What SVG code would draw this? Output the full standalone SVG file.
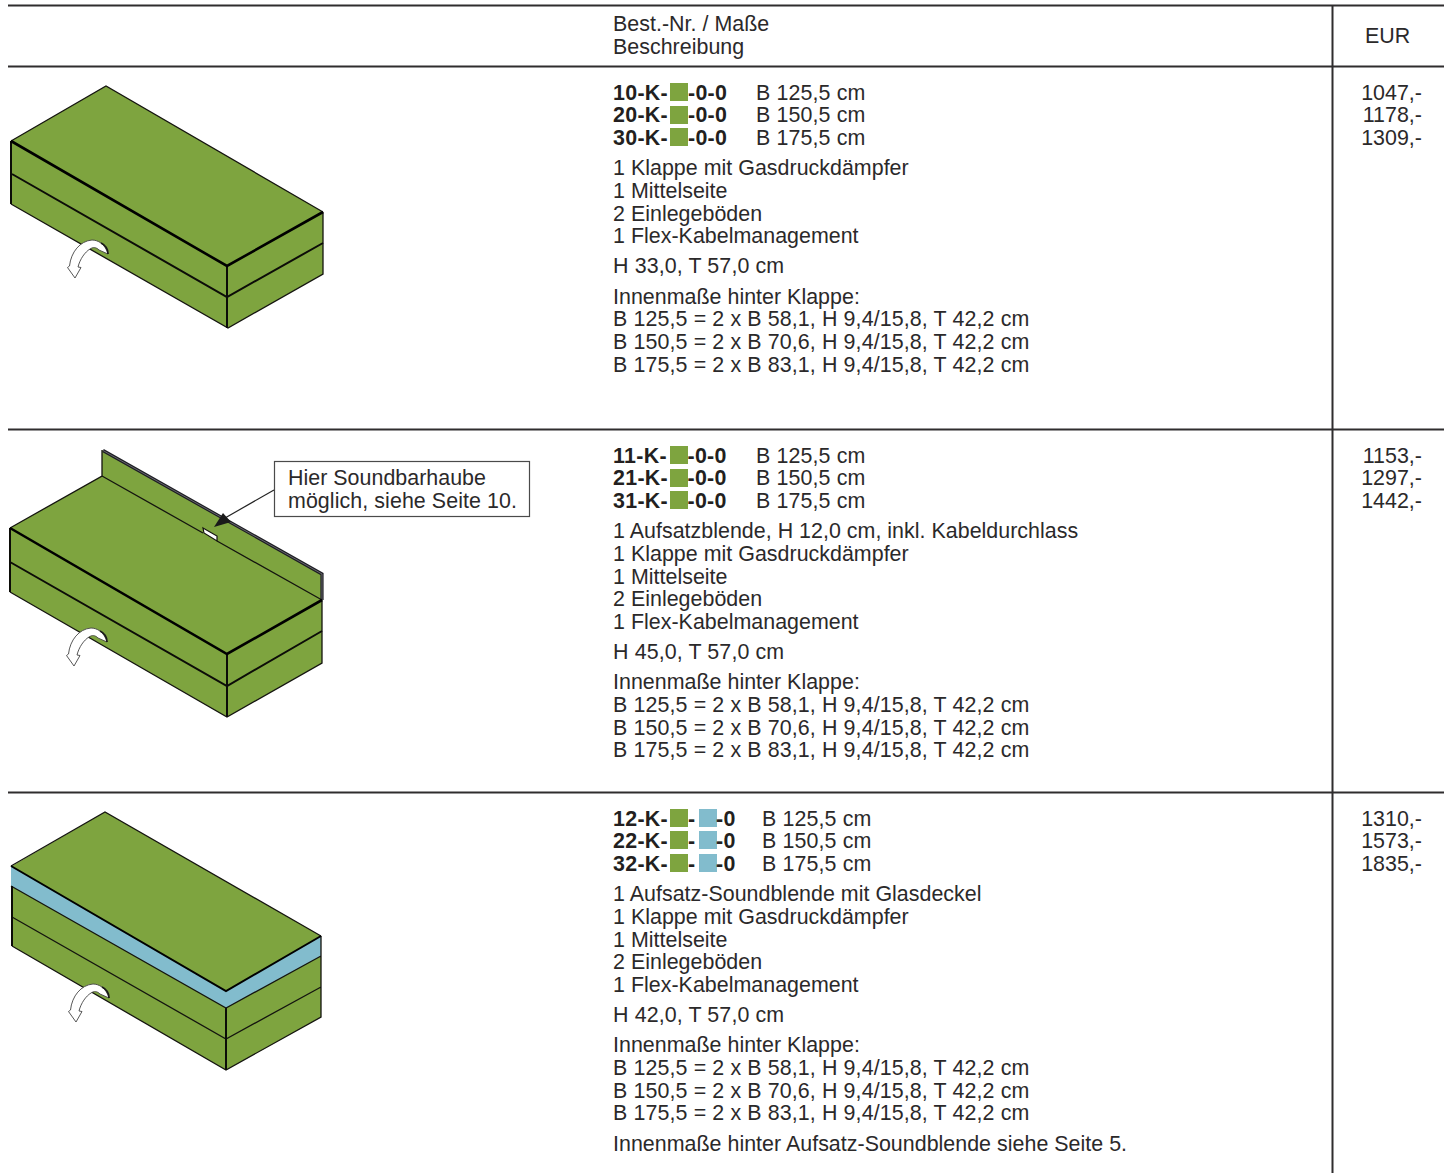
<svg xmlns="http://www.w3.org/2000/svg" width="1452" height="1173" viewBox="0 0 1452 1173">
<style>
text{font-family:"Liberation Sans",Arial,sans-serif;font-size:21.4px;fill:#2b292a;letter-spacing:.03px}
.b{font-weight:bold;fill:#231f20;letter-spacing:.3px}
.d{letter-spacing:.12px}
.e{text-anchor:end}
.rule{stroke:#2f2d2e;stroke-width:2;fill:none}
.g{fill:#7ea43f}
.bl{fill:#82bccd}
.thin{stroke:#14140f;stroke-width:1.3;fill:none}
.mid{stroke:#0c0c08;stroke-width:2;fill:none}
.thick{stroke:#000;stroke-width:2.6;fill:none}
.arr{fill:#fff;stroke:#444;stroke-width:.9;stroke-linejoin:round}
</style>
<defs>
<g id="flap">
<path class="arr" d="M101 243C98 241 95 240 92 240C80 241 71 252 69.500 266L67.500 267.500L75 278L81 267.500L78 267C80 259 85 252 90 249C93 247 96 247 99 250L108 254C107 250 104 245 101 243Z"/>
<path d="M101 243C105 245 108 249 108 254" stroke="#1a1a1a" stroke-width="1.8" fill="none"/>
</g>
</defs>
<g id="rules">
<path class="rule" d="M8 5.500H1444M8 66.500H1444M8 429.500H1444M8 792.500H1444M1332.500 5V1173"/>
</g>
<g id="header">
<text x="613" y="31">Best.-Nr. / Maße</text>
<text x="613" y="54">Beschreibung</text>
<text x="1365" y="43">EUR</text>
</g>
<g id="product-1">
<path class="g" d="M106 86L323 212V274L228 328L11 204V141Z"/>
<path class="thin" d="M11 141L106 86L323 212"/>
<path class="thin" d="M11 204L228 328L323 274V212"/>
<path class="mid" d="M11 141V204M227 266V328M12 174L227 297L323 243"/>
<path class="thick" d="M11 141L227 266L323 212"/>
<use href="#flap"/>
</g>
<g id="row-1-text">
<text class="b" x="613" y="100">10-K-</text><rect class="g" x="670" y="83" width="18" height="18"/><text class="b" x="688" y="100">-0-0</text><text class="d" x="756" y="100">B 125,5 cm</text>
<text class="b" x="613" y="122">20-K-</text><rect class="g" x="670" y="106" width="18" height="18"/><text class="b" x="688" y="122">-0-0</text><text class="d" x="756" y="122">B 150,5 cm</text>
<text class="b" x="613" y="145">30-K-</text><rect class="g" x="670" y="128" width="18" height="18"/><text class="b" x="688" y="145">-0-0</text><text class="d" x="756" y="145">B 175,5 cm</text>
<text x="613" y="175">1 Klappe mit Gasdruckdämpfer</text>
<text x="613" y="198">1 Mittelseite</text>
<text x="613" y="221">2 Einlegeböden</text>
<text x="613" y="243">1 Flex-Kabelmanagement</text>
<text class="d" x="613" y="273">H 33,0, T 57,0 cm</text>
<text x="613" y="304">Innenmaße hinter Klappe:</text>
<text class="d" x="613" y="326">B 125,5 = 2 x B 58,1, H 9,4/15,8, T 42,2 cm</text>
<text class="d" x="613" y="349">B 150,5 = 2 x B 70,6, H 9,4/15,8, T 42,2 cm</text>
<text class="d" x="613" y="372">B 175,5 = 2 x B 83,1, H 9,4/15,8, T 42,2 cm</text>
<text class="e" x="1422" y="100">1047,-</text>
<text class="e" x="1422" y="122">1178,-</text>
<text class="e" x="1422" y="145">1309,-</text>
</g>
<g id="product-2">
<path class="g" d="M102 450L322 574V663L227 717L10 592V528L102 476Z"/>
<path class="thin" d="M10 528L102 476V450M10 592L227 717L322 663V600"/>
<path d="M103 450.500L322 574V600" stroke="#1e1e24" stroke-width="3.200" fill="none"/>
<path d="M103 450.500L322 574V600" stroke="#77777d" stroke-width=".8" fill="none"/>
<path class="thin" d="M102 476L203 533M217 541L322 600"/>
<path d="M203 528L217 536V541L204 533Z" fill="#fff" stroke="#14140f" stroke-width="1.2"/>
<path class="mid" d="M10 528V592M227 654V717M10 562L227 686L322 631"/>
<path class="thick" d="M10 528L227 654L322 600"/>
<use href="#flap" x="-1" y="388"/>
</g>
<g id="callout">
<rect x="274.500" y="461.500" width="255" height="55" fill="#fff" stroke="#4a4a4a" stroke-width="1.200"/>
<path d="M274 490L225 518" stroke="#222" stroke-width="1.200" fill="none"/>
<path d="M214 527L223 513L231 522Z" fill="#1a1a1a"/>
<text x="288" y="485">Hier Soundbarhaube</text>
<text x="288" y="508" style="letter-spacing:.08px">möglich, siehe Seite 10.</text>
</g>
<g id="row-2-text">
<text class="b" x="613" y="463">11-K-</text><rect class="g" x="670" y="446" width="18" height="18"/><text class="b" x="687.500" y="463">-0-0</text><text class="d" x="756" y="463">B 125,5 cm</text>
<text class="b" x="613" y="485">21-K-</text><rect class="g" x="670" y="469" width="18" height="18"/><text class="b" x="687.500" y="485">-0-0</text><text class="d" x="756" y="485">B 150,5 cm</text>
<text class="b" x="613" y="508">31-K-</text><rect class="g" x="670" y="491" width="18" height="18"/><text class="b" x="687.500" y="508">-0-0</text><text class="d" x="756" y="508">B 175,5 cm</text>
<text x="613" y="538">1 Aufsatzblende, H 12,0 cm, inkl. Kabeldurchlass</text>
<text x="613" y="561">1 Klappe mit Gasdruckdämpfer</text>
<text x="613" y="584">1 Mittelseite</text>
<text x="613" y="606">2 Einlegeböden</text>
<text x="613" y="629">1 Flex-Kabelmanagement</text>
<text class="d" x="613" y="659">H 45,0, T 57,0 cm</text>
<text x="613" y="689">Innenmaße hinter Klappe:</text>
<text class="d" x="613" y="712">B 125,5 = 2 x B 58,1, H 9,4/15,8, T 42,2 cm</text>
<text class="d" x="613" y="735">B 150,5 = 2 x B 70,6, H 9,4/15,8, T 42,2 cm</text>
<text class="d" x="613" y="757">B 175,5 = 2 x B 83,1, H 9,4/15,8, T 42,2 cm</text>
<text class="e" x="1422" y="463">1153,-</text>
<text class="e" x="1422" y="485">1297,-</text>
<text class="e" x="1422" y="508">1442,-</text>
</g>
<g id="product-3">
<path class="g" d="M105 812L321 936V1017L226 1070L12 946V866Z"/>
<path class="bl" d="M11 866L226 991L321 936V956L226 1008L11 886Z"/>
<path class="thin" d="M11 866L105 812L321 936M12 946L226 1070L321 1017V956M11 886L226 1008L321 956M321 936V956M12 917L226 1039L321 987"/>
<path class="mid" d="M12 886V946M226 1008V1070"/>
<path class="thick" d="M11 866L226 991L321 936" style="stroke-width:2"/>
<use href="#flap" x="1" y="744"/>
</g>
<g id="row-3-text">
<text class="b" x="613" y="826">12-K-</text><rect class="g" x="670" y="809" width="18" height="18"/><text class="b" x="688" y="826">-</text><rect class="bl" x="699" y="809" width="18" height="18"/><text class="b" x="716" y="826">-0</text><text class="d" x="762" y="826">B 125,5 cm</text>
<text class="b" x="613" y="848">22-K-</text><rect class="g" x="670" y="831" width="18" height="18"/><text class="b" x="688" y="848">-</text><rect class="bl" x="699" y="831" width="18" height="18"/><text class="b" x="716" y="848">-0</text><text class="d" x="762" y="848">B 150,5 cm</text>
<text class="b" x="613" y="871">32-K-</text><rect class="g" x="670" y="854" width="18" height="18"/><text class="b" x="688" y="871">-</text><rect class="bl" x="699" y="854" width="18" height="18"/><text class="b" x="716" y="871">-0</text><text class="d" x="762" y="871">B 175,5 cm</text>
<text x="613" y="901">1 Aufsatz-Soundblende mit Glasdeckel</text>
<text x="613" y="924">1 Klappe mit Gasdruckdämpfer</text>
<text x="613" y="947">1 Mittelseite</text>
<text x="613" y="969">2 Einlegeböden</text>
<text x="613" y="992">1 Flex-Kabelmanagement</text>
<text class="d" x="613" y="1022">H 42,0, T 57,0 cm</text>
<text x="613" y="1052">Innenmaße hinter Klappe:</text>
<text class="d" x="613" y="1075">B 125,5 = 2 x B 58,1, H 9,4/15,8, T 42,2 cm</text>
<text class="d" x="613" y="1098">B 150,5 = 2 x B 70,6, H 9,4/15,8, T 42,2 cm</text>
<text class="d" x="613" y="1120">B 175,5 = 2 x B 83,1, H 9,4/15,8, T 42,2 cm</text>
<text x="613" y="1151">Innenmaße hinter Aufsatz-Soundblende siehe Seite 5.</text>
<text class="e" x="1422" y="826">1310,-</text>
<text class="e" x="1422" y="848">1573,-</text>
<text class="e" x="1422" y="871">1835,-</text>
</g>
</svg>
